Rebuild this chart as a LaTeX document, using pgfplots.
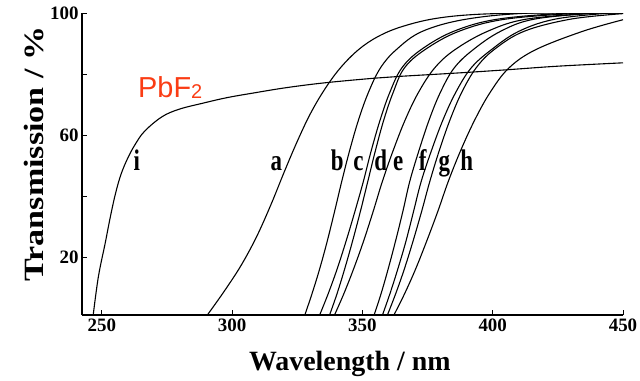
\documentclass[border=0pt]{standalone}
\usepackage{fontspec}
\setmainfont{Liberation Serif}
\newfontfamily\arialfont{Liberation Sans}
\usepackage{graphicx}
\usepackage{pgfplots}
\pgfplotsset{compat=1.18}
\definecolor{pbred}{RGB}{250,60,20}
\pgfplotsset{crv/.style={black, solid, line width=1.1bp, smooth, tension=0.6, mark=none}}
\begin{document}
\begin{tikzpicture}
\useasboundingbox (0,0) rectangle (640bp,381bp);
\begin{axis}[
 at={(82bp,66bp)}, anchor=south west,
 width=541bp, height=302bp, scale only axis,
 xmin=242.4, xmax=450, ymin=1.2, ymax=100,
 axis x line=bottom, axis y line=left,
 axis line style={-, line width=1.3bp},
 xtick={250,300,350,400,450},
 xticklabels={\textbf{250},\textbf{300},\textbf{350},\textbf{400},\textbf{450}},
 ytick={20,40,60,80,100},
 yticklabels={\textbf{20},,\textbf{60},,\textbf{100}},
 tick align=inside,
 major tick length=5bp,
 tick style={line width=1bp, black},
 ticklabel style={font=\fontsize{19}{19}\selectfont\bfseries},
 xlabel={Wavelength / nm},
 xlabel style={font=\fontsize{28}{28}\selectfont\bfseries, at={(axis description cs:0.495,-0.185)}, anchor=base},
 ylabel={\scalebox{1.22}[1]{Transmission / \%}},
 ylabel style={font=\fontsize{28}{28}\selectfont\bfseries, at={(axis description cs:-0.0715,0.533)}, anchor=base},
 clip=true,
]
% i (PbF2)
\addplot[crv] coordinates {(246.7,1.2)(248.7,13.8)(251.3,24.7)(253.3,33.4)(255.3,41.1)(257.4,47.3)(260,52.6)(262.8,57)(266.4,61.3)(273,66)(279.6,68.5)(288.8,70.5)(298,72.3)(308,73.8)(321,75.6)(336,77.2)(355,78.7)(365,79.3)(387,80.4)(405,81.4)(425,82.6)(450,83.7)};
% a
\addplot[crv] coordinates {(290.5,1.2)(297,9)(303.5,17.5)(309.5,27)(315,37.5)(320,48)(325,58)(330,67)(335.5,75)(341.5,82)(348.5,88)(356,92.3)(365,95.5)(378,98.2)(395,99.6)(420,100)(450,100)};
% b
\addplot[crv] coordinates {(327.9,1.2)(330.6,8)(333.5,16)(336.4,25)(339.3,35)(342.1,45)(345.1,55)(348.5,65)(352.3,74)(356.9,82)(363,88)(373,94)(390,98)(415,100)(450,100)};
% c
\addplot[crv] coordinates {(333.6,1.2)(336.8,8)(340.2,16)(343.6,25)(347.1,35)(350.4,45)(353.4,55)(356.8,65)(360.5,74)(365.1,82)(372.5,88)(385,94)(402,98)(430,100)(450,100)};
% d
\addplot[crv] coordinates {(337.4,1.2)(340.2,8)(343.1,16)(346.1,25)(349.2,35)(352.1,45)(355,55)(358.2,65)(361.8,74)(366.1,82)(374,88)(387,94)(405,98)(435,100)(450,100)};
% e
\addplot[crv] coordinates {(339.3,1.2)(342.8,8)(346.5,16)(350.3,25)(354.1,35)(357.7,45)(361.8,55)(366.4,65)(371.5,74)(377.7,82)(385.5,88)(398,94)(413,98)(440,100)(450,100)};
% f
\addplot[crv] coordinates {(354.5,1.2)(357.1,8)(359.8,16)(362.6,25)(365.5,35)(368.2,45)(371.7,55)(375.6,65)(379.9,74)(385.2,82)(392.5,88)(403,94)(416,98)(440,100)(450,100)};
% g
\addplot[crv] coordinates {(357.7,1.2)(360.5,8)(363.5,16)(366.6,25)(369.6,35)(372.6,45)(376.5,55)(380.9,65)(385.8,74)(391.7,82)(399.5,88)(410,94)(424,98)(445,100)(450,100)};
% g'
\addplot[crv] coordinates {(359.6,1.2)(362.7,8)(366,16)(369.3,25)(372.7,35)(375.9,45)(379.5,55)(383.6,65)(388.1,74)(393.6,82)(400.5,88)(412,94)(430,98)(450,99.8)};
% h
\addplot[crv] coordinates {(362.1,1.2)(366.1,8)(370.3,16)(374.5,25)(378.9,35)(383,45)(387.7,55)(393.1,65)(399,74)(406.2,82)(416.5,88)(434.5,94)(450,97.8)};
\begin{scope}[every node/.style={font=\fontsize{23}{23}\selectfont\bfseries, anchor=base, inner sep=0pt}]
\node at (axis cs:263.4,48.4) {\scalebox{1}[1.3]{i}};
\node at (axis cs:317,48.4) {\scalebox{1}[1.3]{a}};
\node at (axis cs:340.3,48.4) {\scalebox{1}[1.3]{b}};
\node at (axis cs:348.5,48.4) {\scalebox{1}[1.3]{c}};
\node at (axis cs:357,48.4) {\scalebox{1}[1.3]{d}};
\node at (axis cs:363.7,48.4) {\scalebox{1}[1.3]{e}};
\node at (axis cs:373.1,48.4) {\scalebox{1}[1.3]{f}};
\node at (axis cs:381.4,48.4) {\scalebox{1}[1.3]{g}};
\node at (axis cs:390,48.4) {\scalebox{1}[1.3]{h}};
\end{scope}
\node[anchor=base west, inner sep=0pt, text=pbred, font=\arialfont\fontsize{29}{29}\selectfont] at (axis cs:263.9,72.3) {PbF\raisebox{-1bp}{\fontsize{20}{20}\selectfont 2}};
\end{axis}
\end{tikzpicture}
\end{document}
